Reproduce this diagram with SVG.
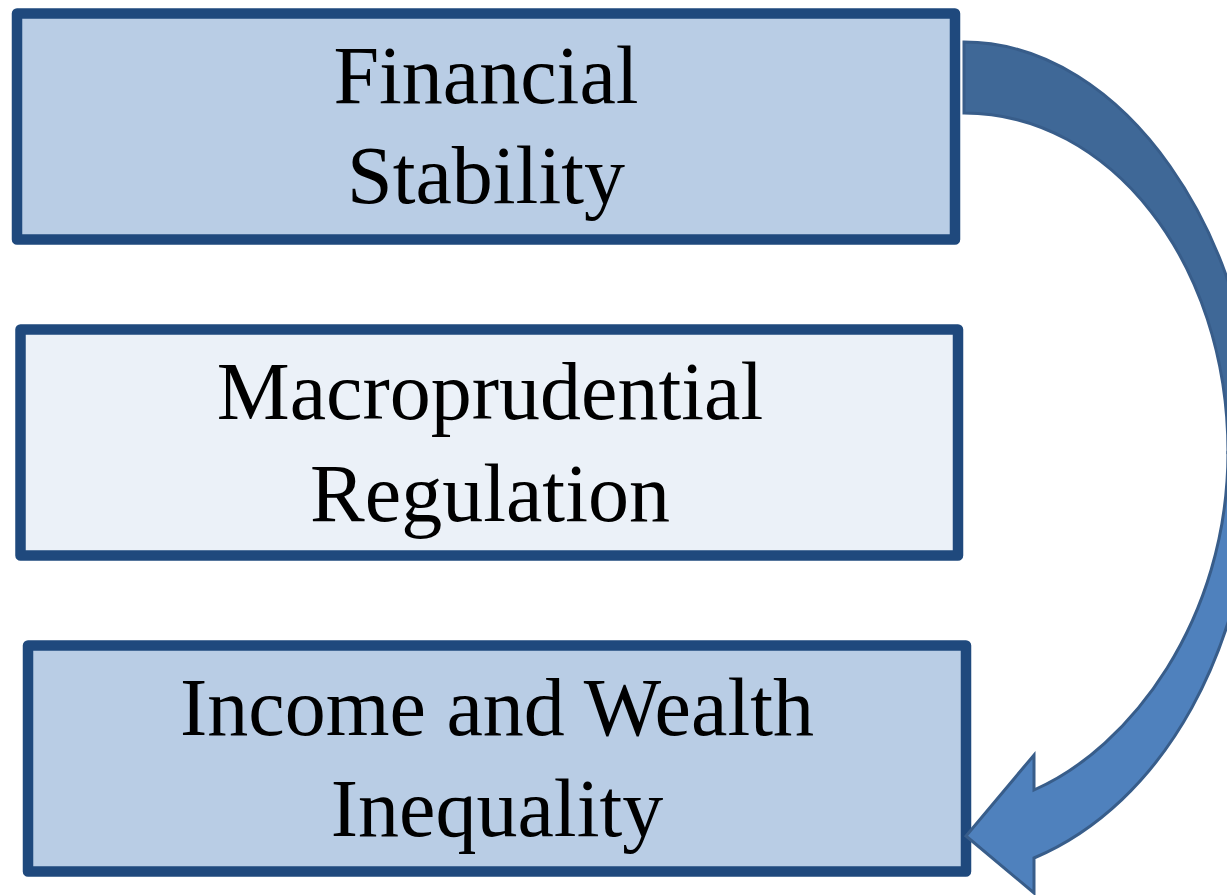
<svg xmlns="http://www.w3.org/2000/svg" width="1227" height="895" viewBox="0 0 1227 895">
<style>
.box{stroke:#1F497D;stroke-width:10.5;stroke-linejoin:round}
.dark{fill:#B9CDE5}
.light{fill:#EBF1F8}
.lbl{font-family:"Liberation Serif","Times New Roman",serif;font-size:82px;fill:#000;text-anchor:middle}
.arr{stroke:#385D8A;stroke-width:3;stroke-linejoin:miter}
</style>
<rect width="1227" height="895" fill="#FFFFFF"/>
<g id="node-financial-stability">
<rect class="box dark" x="17" y="13.5" width="938" height="226"/>
<text class="lbl" x="486" y="103">Financial</text>
<text class="lbl" x="486" y="203">Stability</text>
</g>
<g id="node-macroprudential-regulation">
<rect class="box light" x="20.5" y="329.5" width="937.5" height="226"/>
<text class="lbl" x="490" y="419">Macroprudential</text>
<text class="lbl" x="490" y="521">Regulation</text>
</g>
<g id="node-income-wealth-inequality">
<rect class="box dark" x="28" y="645.5" width="938" height="226"/>
<text class="lbl" x="497" y="735">Income and Wealth</text>
<text class="lbl" x="497" y="836">Inequality</text>
</g>
<g id="connectors">
<path class="arr" fill="#3F6897" d="M964,42 C1125,42 1255,240 1255,440 L1228,452 C1228,262 1110,113 964,113 Z"/>
<path class="arr" fill="#4F81BD" d="M1255,440 C1255,650 1160,805 1034,858 L1034,893 L966,836 L1034,755 L1034,790 C1130,748 1228,620 1228,452 Z"/>
</g>
</svg>
